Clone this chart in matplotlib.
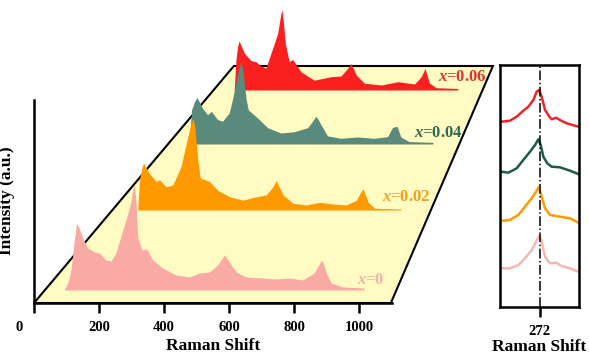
import matplotlib
matplotlib.use('Agg')
import matplotlib.pyplot as plt
from matplotlib.patches import Polygon
from matplotlib.transforms import ScaledTranslation

plt.rcParams['font.family'] = ['Liberation Serif', 'DejaVu Serif']
plt.rcParams['font.weight'] = 'bold'
plt.rcParams['mathtext.fontset'] = 'custom'
plt.rcParams['mathtext.it'] = 'Liberation Serif:italic:bold'
plt.rcParams['mathtext.rm'] = 'Liberation Serif:bold'

# ---- spectra (Raman shift, intensity in a.u.) ----
pink_shift = [93, 105, 114, 124, 131, 139, 150, 165, 186, 201, 221, 237, 252, 266, 278, 290, 298,
              304, 307, 311, 314, 319, 332, 347, 365, 396, 437, 478, 509, 540, 565, 578, 586,
              593, 601, 622, 652, 703, 745, 786, 827, 862, 876, 885, 891, 898, 914, 950, 1016]
pink_int = [0, 8, 20, 50, 67, 62, 52, 42, 38, 37, 30, 29, 37, 52, 65, 78, 88,
            100, 106, 98, 87, 53, 40, 41, 30, 22, 15, 13, 17, 18, 25, 31, 35,
            32, 28, 18, 13, 12, 11, 12, 10, 17, 25, 30, 26, 18, 7, 3, 2]

orange_shift = [107, 113, 120, 127, 135, 147, 171, 182, 205, 228, 257, 270, 280, 290, 298, 304,
                309, 316, 323, 355, 384, 424, 471, 505, 551, 572, 586, 596, 609, 644, 690, 736,
                782, 828, 863, 876, 886, 893, 903, 926, 1018]
orange_int = [0, 34, 46, 53, 48, 41, 32, 34, 26, 28, 49, 68, 82, 96, 103, 95,
              75, 52, 36, 32, 22, 15, 11, 14, 17, 25, 33, 26, 17, 7.5, 5.6, 8.6,
              6.7, 5.6, 11, 19, 24, 18, 9, 2, 1]

green_shift = [100, 109, 120, 129, 138, 150, 169, 184, 207, 226, 251, 265, 276, 287, 295, 302,
               308, 315, 323, 358, 396, 446, 496, 547, 566, 578, 587, 597, 622, 672, 735, 798,
               849, 867, 884, 891, 899, 930, 1020]
green_int = [0, 42, 52, 57, 52, 44, 36, 40, 30, 28, 38, 57, 75, 92, 101, 92,
             75, 55, 42, 32, 20, 13.5, 15, 20, 28, 34, 30, 24, 10, 7, 8.6, 7,
             9, 20, 22, 16, 8.6, 3, 2]

red_shift = [110, 117, 124, 130, 139, 151, 178, 198, 219, 239, 260, 275, 287, 297, 304, 311,
             318, 334, 348, 382, 436, 504, 545, 573, 586, 595, 607, 640, 709, 777, 845, 872,
             888, 896, 906, 933, 1021]
red_int = [0, 40, 58, 65, 58, 49, 39, 37.5, 32, 29, 49, 63, 75, 95, 107, 88,
           62, 37.5, 40.6, 24, 13, 17.6, 18.5, 29, 35, 29, 20, 9, 6.6, 11, 8, 17.6,
           28.7, 19, 9, 3, 2]

labels = ['x=0', 'x=0.02', 'x=0.04', 'x=0.06']

# ---- zoomed panel around 272 ----
zoom_shift = [233.7, 242.1, 248.9, 255.6, 260.7, 265.8, 269.1, 271.5, 274.2, 277.6, 282.0,
              284.3, 288.7, 292.7, 299.5, 311.3]
zoom_red = [185.3, 186.3, 190.3, 196.3, 200.3, 207, 215.3, 217, 210.3, 197, 190.3,
            187.7, 189.3, 187, 183.7, 180.3]
zoom_green_shift = [233.7, 240.4, 248.9, 255.6, 262.4, 267.5, 270.8, 273.2, 275.9, 279.9, 284.3,
                    292.7, 302.9, 311.3]
zoom_green = [135.3, 134.3, 138.7, 147, 155.3, 162, 167.7, 162, 150.3, 143.7, 140.3,
              139.7, 136.3, 133]
zoom_orange_shift = [233.7, 242.1, 250.6, 257.3, 264.1, 268.5, 271.2, 274.2, 277.6, 282.6,
                     292.7, 302.9, 311.3]
zoom_orange = [86.3, 87, 92, 100.3, 108.7, 115.3, 119.7, 110.3, 98.7, 92, 90.3, 88.7, 84.3]
zoom_pink_shift = [233.7, 242.1, 250.6, 257.3, 264.1, 268.5, 271.8, 274.2, 277.6, 282.6,
                   288.7, 294.4, 302.9, 311.3]
zoom_pink = [38.7, 38.7, 42, 48.7, 57, 65.3, 71, 65.3, 50.3, 43.7, 44.3, 41, 38.7, 35.3]

# waterfall placement: x offset, y baseline, perspective scale
offsets = [(0, 13, 1.0), (224, 93, 0.89), (396, 159, 0.815), (533, 213, 0.755)]
fill_colors = ['#F9AAA5', '#FF9900', '#5A8A7B', '#FB2020']
label_colors = ['#F6B3AA', '#F5A020', '#2D6A52', '#E8332A']
label_pos = [(995, 23), (1072, 106), (1170, 170), (1244, 226)]
line_colors = ['#F7B7AE', '#FF9A00', '#1E5B44', '#E8262B']

fig = plt.figure(figsize=(5.89, 3.58), dpi=100)
ax = fig.add_axes([34 / 589, 55 / 358, 357.5 / 589, 298 / 358])
ax.set_xlim(0, 1100)
ax.set_ylim(0, 298)

# yellow floor
floor = Polygon([(0, 0), (1098, 0), (1412, 237), (615, 237)], closed=True,
                facecolor='#FFFBC2', edgecolor='black', lw=1.5, zorder=1, clip_on=False)
ax.add_patch(floor)

spectra = [(pink_shift, pink_int), (orange_shift, orange_int),
           (green_shift, green_int), (red_shift, red_int)]

for i in [3, 2, 1, 0]:
    s, h = spectra[i]
    x0, y0, k = offsets[i]
    xs = [x0 + k * v for v in s]
    ys = [y0 + k * v for v in h]
    ax.fill_between(xs, y0, ys, color=fill_colors[i], lw=0, zorder=2 + (3 - i), clip_on=False)
    lx, ly = label_pos[i]
    ax.text(lx, ly, r'$x$' + labels[i][1:], color=label_colors[i], fontsize=12,
            fontweight='bold', ha='left', va='center', zorder=10, clip_on=False)

ax.spines['top'].set_visible(False)
ax.spines['right'].set_visible(False)
ax.spines['left'].set_bounds(0, 203)
ax.spines['left'].set_linewidth(1.8)
ax.spines['bottom'].set_linewidth(1.8)
ax.spines['left'].set_zorder(0.5)
ax.set_yticks([])
ax.set_xticks([0, 200, 400, 600, 800, 1000])
ax.tick_params(axis='x', direction='out', length=7, width=1.8, labelsize=10.5, pad=6)
ax.set_xlabel('Raman Shift', fontsize=12.5, fontweight='bold', labelpad=3)
ax.set_ylabel('Intensity (a.u.)', fontsize=12.5, fontweight='bold')
ax.yaxis.set_label_coords(-0.053, 0.342)
ax.set_facecolor('none')
fig.canvas.draw()
zero_lbl = ax.get_xticklabels()[0]
zero_lbl.set_transform(zero_lbl.get_transform() + ScaledTranslation(-15 / 100, 0, fig.dpi_scale_trans))

# right panel
ax2 = fig.add_axes([500 / 589, 51 / 358, 79 / 589, 242 / 358])
ax2.set_xlim(232, 312)
ax2.set_ylim(0, 242)
ax2.plot(zoom_pink_shift, zoom_pink, color=line_colors[0], lw=1.8)
ax2.plot(zoom_orange_shift, zoom_orange, color=line_colors[1], lw=1.8)
ax2.plot(zoom_green_shift, zoom_green, color=line_colors[2], lw=1.8)
ax2.plot(zoom_shift, zoom_red, color=line_colors[3], lw=1.8)
ax2.axvline(272, color='black', lw=1.1, ls='-.')
for sp in ax2.spines.values():
    sp.set_linewidth(1.8)
ax2.set_yticks([])
ax2.set_xticks([272])
ax2.tick_params(axis='x', direction='out', length=7, width=1.8, labelsize=10.5, pad=6)
ax2.set_xlabel('Raman Shift', fontsize=12.5, fontweight='bold', labelpad=1)

fig.savefig('out.png', dpi=100)
